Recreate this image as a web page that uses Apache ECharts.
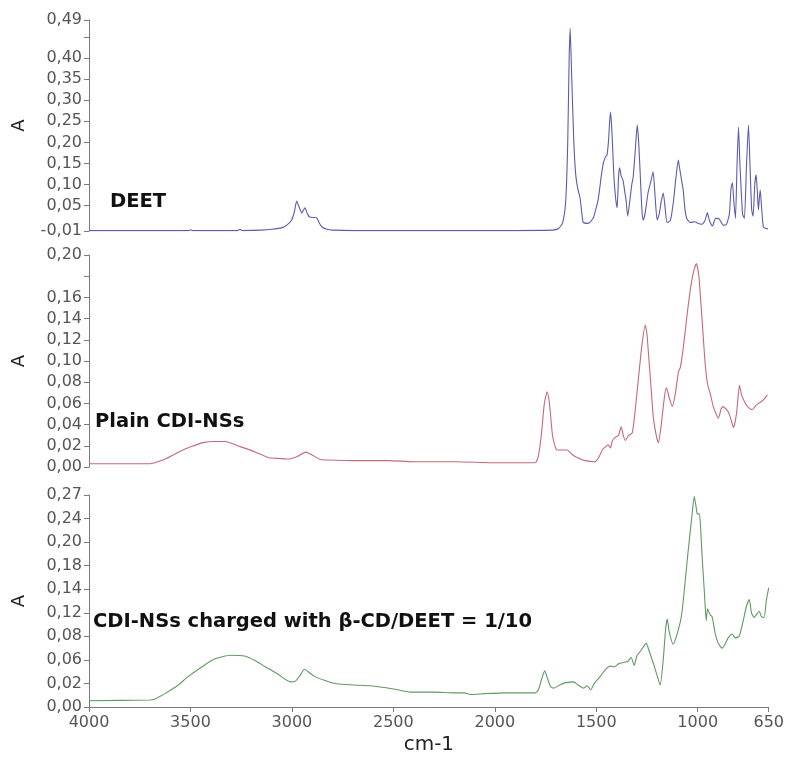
<!DOCTYPE html>
<html>
<head>
<meta charset="utf-8">
<script src="https://cdn.jsdelivr.net/npm/echarts@6/dist/echarts.min.js"></script>
<style>
html,body{margin:0;padding:0;background:#fff;}
#chart{width:787px;height:760px;}
</style>
</head>
<body>
<div id="chart"></div>
<script>
// ---------- data ----------
const xTicks = [4000, 3500, 3000, 2500, 2000, 1500, 1000, 650];

const topTickVals = [-0.01, 0.05, 0.10, 0.15, 0.20, 0.25, 0.30, 0.35, 0.40, 0.45, 0.49];
const topTickText = ['-0,01', '0,05', '0,10', '0,15', '0,20', '0,25', '0,30', '0,35', '0,40', '', '0,49'];

const midTickVals = [0, 0.02, 0.04, 0.06, 0.08, 0.10, 0.12, 0.14, 0.16, 0.18, 0.20];
const midTickText = ['0,00', '0,02', '0,04', '0,06', '0,08', '0,10', '0,12', '0,14', '0,16', '', '0,20'];

const botTickVals = [0, 0.03, 0.06, 0.09, 0.12, 0.15, 0.18, 0.21, 0.24, 0.27];
const botTickText = ['0,00', '0,02', '0,06', '0,08', '0,12', '0,14', '0,18', '0,20', '0,24', '0,27'];

const seriesNames = ['DEET', 'Plain CDI-NSs', 'CDI-NSs charged with \u03b2-CD/DEET = 1/10'];

const deetWn = [4000,3700,3510,3500,3490,3270,3258,3245,3150,3100,3050,3027,3003,2990,2978,2965,2953,2938,2925,2914,2895,2880,2868,2855,2830,2800,2700,2000,1720,1690,1670,1655,1645,1638,1633,1627,1615,1605,1594,1585,1575,1569,1545,1520,1505,1495,1480,1470,1460,1452,1445,1435,1428,1418,1410,1402,1395,1390,1382,1373,1365,1358,1350,1340,1330,1323,1313,1303,1296,1288,1280,1274,1265,1250,1235,1225,1215,1205,1195,1185,1175,1165,1156,1140,1125,1112,1101,1095,1085,1077,1068,1058,1040,1020,1000,985,970,958,948,933,918,904,895,880,865,850,842,835,828,820,812,805,798,785,776,766,756,748,740,733,725,718,712,707,702,698,692,683,670,660];
const deetA = [-0.009,-0.009,-0.009,-0.007,-0.009,-0.009,-0.006,-0.009,-0.008,-0.006,-0.002,0.004,0.016,0.035,0.061,0.045,0.033,0.045,0.030,0.023,0.022,0.021,0.010,0.000,-0.006,-0.008,-0.009,-0.009,-0.008,-0.004,0.010,0.060,0.200,0.400,0.470,0.380,0.200,0.120,0.087,0.070,0.030,0.011,0.008,0.020,0.045,0.065,0.120,0.150,0.165,0.170,0.200,0.272,0.230,0.120,0.070,0.045,0.120,0.140,0.120,0.110,0.085,0.063,0.025,0.060,0.100,0.118,0.180,0.241,0.200,0.120,0.040,0.016,0.030,0.080,0.110,0.130,0.070,0.016,0.030,0.060,0.080,0.040,0.010,0.015,0.060,0.120,0.158,0.140,0.110,0.087,0.040,0.018,0.010,0.012,0.007,0.006,0.015,0.033,0.015,0.002,0.020,0.020,0.015,0.004,0.005,0.030,0.090,0.104,0.060,0.020,0.150,0.236,0.150,0.030,0.020,0.140,0.241,0.140,0.040,0.025,0.100,0.123,0.080,0.040,0.070,0.087,0.050,0.000,-0.004,-0.005];

const plainWn = [4000,3700,3677,3620,3560,3500,3440,3382,3330,3253,3180,3120,3060,3022,2975,2933,2900,2860,2825,2700,2530,2400,2200,2000,1806,1790,1775,1760,1746,1735,1720,1705,1697,1670,1648,1625,1599,1560,1510,1490,1475,1460,1446,1435,1425,1411,1395,1382,1372,1362,1345,1328,1315,1298,1280,1264,1255,1249,1237,1224,1210,1199,1185,1170,1160,1145,1131,1115,1100,1091,1075,1057,1040,1025,1012,1000,990,983,970,958,945,929,915,904,890,880,868,855,842,830,815,800,790,771,755,737,720,707,690,675,663];
const plainA = [0.003,0.003,0.004,0.008,0.014,0.019,0.023,0.024,0.024,0.019,0.014,0.009,0.008,0.0075,0.010,0.014,0.011,0.007,0.0066,0.006,0.006,0.005,0.005,0.004,0.004,0.010,0.030,0.060,0.071,0.060,0.030,0.018,0.016,0.016,0.016,0.012,0.009,0.006,0.005,0.010,0.016,0.019,0.021,0.018,0.025,0.028,0.030,0.038,0.030,0.025,0.030,0.032,0.050,0.082,0.115,0.134,0.125,0.110,0.080,0.047,0.030,0.023,0.040,0.065,0.075,0.065,0.057,0.070,0.090,0.094,0.115,0.145,0.170,0.185,0.192,0.180,0.155,0.136,0.100,0.079,0.070,0.057,0.050,0.046,0.055,0.057,0.055,0.052,0.045,0.037,0.050,0.077,0.068,0.060,0.056,0.054,0.058,0.060,0.062,0.065,0.068];

const chargedWn = [4000,3700,3677,3620,3560,3515,3450,3382,3303,3234,3180,3136,3070,3007,2983,2960,2938,2915,2889,2840,2790,2700,2613,2500,2416,2300,2200,2150,2120,2050,1953,1800,1785,1770,1754,1740,1725,1710,1680,1650,1611,1590,1562,1545,1527,1510,1480,1460,1446,1430,1411,1390,1362,1345,1328,1313,1300,1280,1254,1240,1219,1200,1185,1170,1158,1150,1140,1121,1105,1086,1078,1071,1060,1047,1030,1017,1008,1002,992,985,978,968,958,952,948,938,929,915,900,880,865,850,830,815,796,780,760,746,735,722,710,697,685,673,662,650];
const chargedA = [0.008,0.009,0.010,0.018,0.028,0.038,0.050,0.061,0.066,0.065,0.059,0.052,0.042,0.032,0.033,0.040,0.048,0.044,0.039,0.034,0.030,0.028,0.027,0.023,0.019,0.019,0.018,0.018,0.016,0.017,0.018,0.018,0.022,0.035,0.046,0.036,0.026,0.024,0.028,0.031,0.032,0.028,0.024,0.027,0.022,0.030,0.039,0.046,0.050,0.052,0.051,0.055,0.057,0.058,0.063,0.053,0.065,0.072,0.081,0.072,0.056,0.040,0.028,0.060,0.100,0.112,0.095,0.080,0.090,0.108,0.120,0.136,0.165,0.199,0.240,0.268,0.255,0.246,0.246,0.225,0.190,0.150,0.110,0.125,0.123,0.117,0.115,0.095,0.082,0.075,0.080,0.088,0.093,0.088,0.090,0.105,0.128,0.137,0.120,0.114,0.118,0.122,0.115,0.114,0.135,0.152];

// ---------- chart ----------
const pairs = (xs, ys) => xs.map((x, i) => [x, ys[i]]);
const lookup = (vals, texts) => (v) => {
  for (let i = 0; i < vals.length; i++) if (Math.abs(vals[i] - v) < 1e-6) return texts[i];
  return '';
};

const labelFont = 'DejaVu Sans';
const axisGray = '#7a7a7a';
const labelGray = '#555';

function yAxisDef(gridIndex, min, max, vals, texts) {
  return {
    type: 'value', gridIndex, min, max,
    name: 'A', nameLocation: 'middle', nameRotate: 90, nameGap: 61,
    nameTextStyle: { fontFamily: labelFont, fontSize: 18, color: '#222' },
    axisLine: { show: true, lineStyle: { color: axisGray, width: 1 } },
    axisTick: { show: true, inside: false, length: 5, customValues: vals, lineStyle: { color: axisGray } },
    axisLabel: { show: true, customValues: vals, formatter: lookup(vals, texts), margin: 7,
      fontFamily: labelFont, fontSize: 16, color: labelGray },
    splitLine: { show: false }
  };
}

function xAxisDef(gridIndex, show) {
  return {
    type: 'value', gridIndex, min: 650, max: 4000, inverse: true, show,
    name: show ? 'cm-1' : '', nameLocation: 'middle', nameGap: 28,
    nameTextStyle: { fontFamily: labelFont, fontSize: 20, color: '#222' },
    axisLine: { show: true, onZero: false, lineStyle: { color: axisGray, width: 1 } },
    axisTick: { show: true, length: 5, customValues: xTicks, lineStyle: { color: axisGray } },
    axisLabel: { show: true, customValues: xTicks, formatter: (v) => String(Math.round(v)), margin: 8,
      fontFamily: labelFont, fontSize: 16, color: labelGray },
    splitLine: { show: false }
  };
}

const chart = echarts.init(document.getElementById('chart'), null, { renderer: 'canvas' });
chart.setOption({
  backgroundColor: '#fff',
  animation: false,
  grid: [
    { left: 89, right: 17, top: 20, height: 211 },
    { left: 89, right: 17, top: 255, height: 212 },
    { left: 89, right: 17, top: 495, height: 212 }
  ],
  xAxis: [xAxisDef(0, false), xAxisDef(1, false), xAxisDef(2, true)],
  yAxis: [
    yAxisDef(0, -0.01, 0.49, topTickVals, topTickText),
    yAxisDef(1, 0, 0.20, midTickVals, midTickText),
    yAxisDef(2, 0, 0.27, botTickVals, botTickText)
  ],
  series: [
    { name: seriesNames[0], type: 'line', xAxisIndex: 0, yAxisIndex: 0, data: pairs(deetWn, deetA),
      showSymbol: false, smooth: 0.2, lineStyle: { color: '#5b5bb0', width: 1.1 } },
    { name: seriesNames[1], type: 'line', xAxisIndex: 1, yAxisIndex: 1, data: pairs(plainWn, plainA),
      showSymbol: false, smooth: 0.2, lineStyle: { color: '#c26a78', width: 1.1 } },
    { name: seriesNames[2], type: 'line', xAxisIndex: 2, yAxisIndex: 2, data: pairs(chargedWn, chargedA),
      showSymbol: false, smooth: 0.2, lineStyle: { color: '#5f9a62', width: 1.1 } }
  ],
  graphic: [
    { type: 'text', left: 110, top: 192, style: { text: seriesNames[0], fontFamily: labelFont, fontWeight: 'bold', fontSize: 19.5, fill: '#111' } },
    { type: 'text', left: 95, top: 412, style: { text: seriesNames[1], fontFamily: labelFont, fontWeight: 'bold', fontSize: 19.5, fill: '#111' } },
    { type: 'text', left: 93, top: 612, style: { text: seriesNames[2], fontFamily: labelFont, fontWeight: 'bold', fontSize: 19.5, fill: '#111' } }
  ]
});
</script>
</body>
</html>
